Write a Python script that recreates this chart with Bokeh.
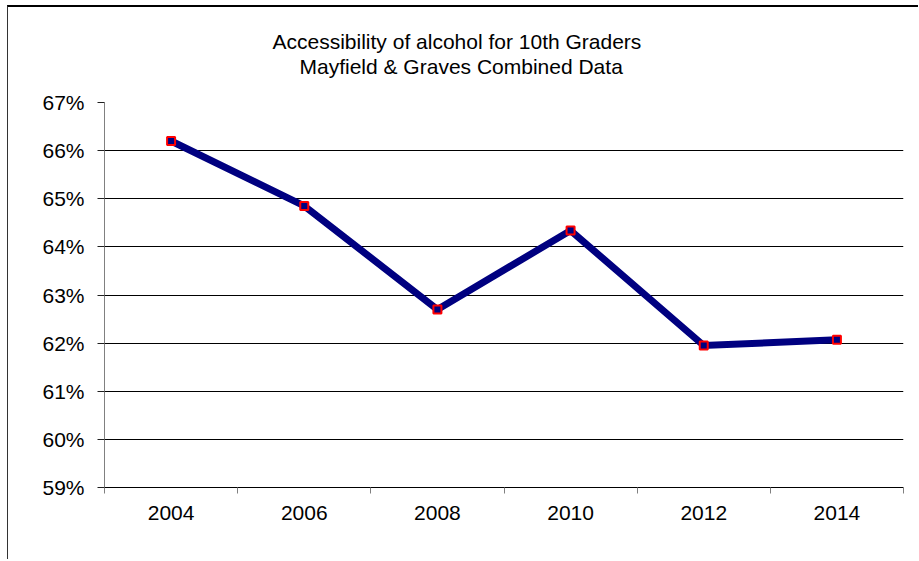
from bokeh.plotting import figure
from bokeh.models import Range1d, FixedTicker, PrintfTickFormatter, Title
from bokeh.embed import file_html
from bokeh.resources import INLINE

# Data
years = [2004, 2006, 2008, 2010, 2012, 2014]
pct = [66.2, 64.85, 62.70, 64.34, 61.95, 62.07]
y_ticks = [59, 60, 61, 62, 63, 64, 65, 66, 67]
title_line1 = "Accessibility of alcohol for 10th Graders"
title_line2 = "Mayfield & Graves Combined Data"

FONT = "Liberation Sans"
FS = "21px"

# category boundaries (between the years)
bounds = [years[0] - 1] + [y + 1 for y in years]

p = figure(width=911, height=554, output_backend="svg", toolbar_location=None,
           x_range=Range1d(bounds[0], bounds[-1]), y_range=Range1d(y_ticks[0], y_ticks[-1]),
           min_border_left=96, min_border_right=16, min_border_top=95, min_border_bottom=74)
p.outline_line_color = None
p.background_fill_color = "white"
p.border_fill_color = "white"
p.styles = {"margin-left": "7px", "margin-top": "5px",
            "border-top": "2px solid #000000", "border-left": "1px solid #333333"}

# two-line title: spacer closest to the plot, then line 2, then line 1
spacer = Title(text=" ", text_font_size="1px", standoff=22)
t2 = Title(text=title_line2, align="left", offset=195, standoff=0,
           text_font=FONT, text_font_size=FS, text_font_style="normal", text_color="black")
t1 = Title(text=title_line1, align="left", offset=168, standoff=0,
           text_font=FONT, text_font_size=FS, text_font_style="normal", text_color="black")
p.add_layout(spacer, "above")
p.add_layout(t2, "above")
p.add_layout(t1, "above")

# y axis
p.yaxis.ticker = FixedTicker(ticks=y_ticks)
p.yaxis.formatter = PrintfTickFormatter(format="%d%%")
p.yaxis.axis_line_color = "#808080"
p.yaxis.major_tick_line_color = "#202020"
p.yaxis.major_tick_out = 7
p.yaxis.major_tick_in = 0
p.yaxis.minor_tick_line_color = None
p.yaxis.major_label_standoff = 13
p.yaxis.major_label_text_font = FONT
p.yaxis.major_label_text_font_size = FS
p.yaxis.major_label_text_color = "black"

# x axis
p.xaxis.ticker = FixedTicker(ticks=years, minor_ticks=bounds)
p.xaxis.formatter = PrintfTickFormatter(format="%d")
p.xaxis.axis_line_color = "black"
p.xaxis.major_tick_out = 0
p.xaxis.major_tick_in = 0
p.xaxis.minor_tick_out = 6
p.xaxis.minor_tick_in = 0
p.xaxis.minor_tick_line_color = "#808080"
p.xaxis.major_label_standoff = 12
p.xaxis.major_label_text_font = FONT
p.xaxis.major_label_text_font_size = FS
p.xaxis.major_label_text_color = "black"

# grid
p.xgrid.grid_line_color = None
p.ygrid.ticker = FixedTicker(ticks=y_ticks[1:-1])
p.ygrid.grid_line_color = "black"
p.ygrid.grid_line_width = 1

p.line(years, pct, line_color="#000080", line_width=7, line_join="miter")
p.scatter(years, pct, marker="square", size=8, fill_color="#000080",
          line_color="#ff0000", line_width=2)

open("out.html", "w").write(file_html(p, INLINE))
